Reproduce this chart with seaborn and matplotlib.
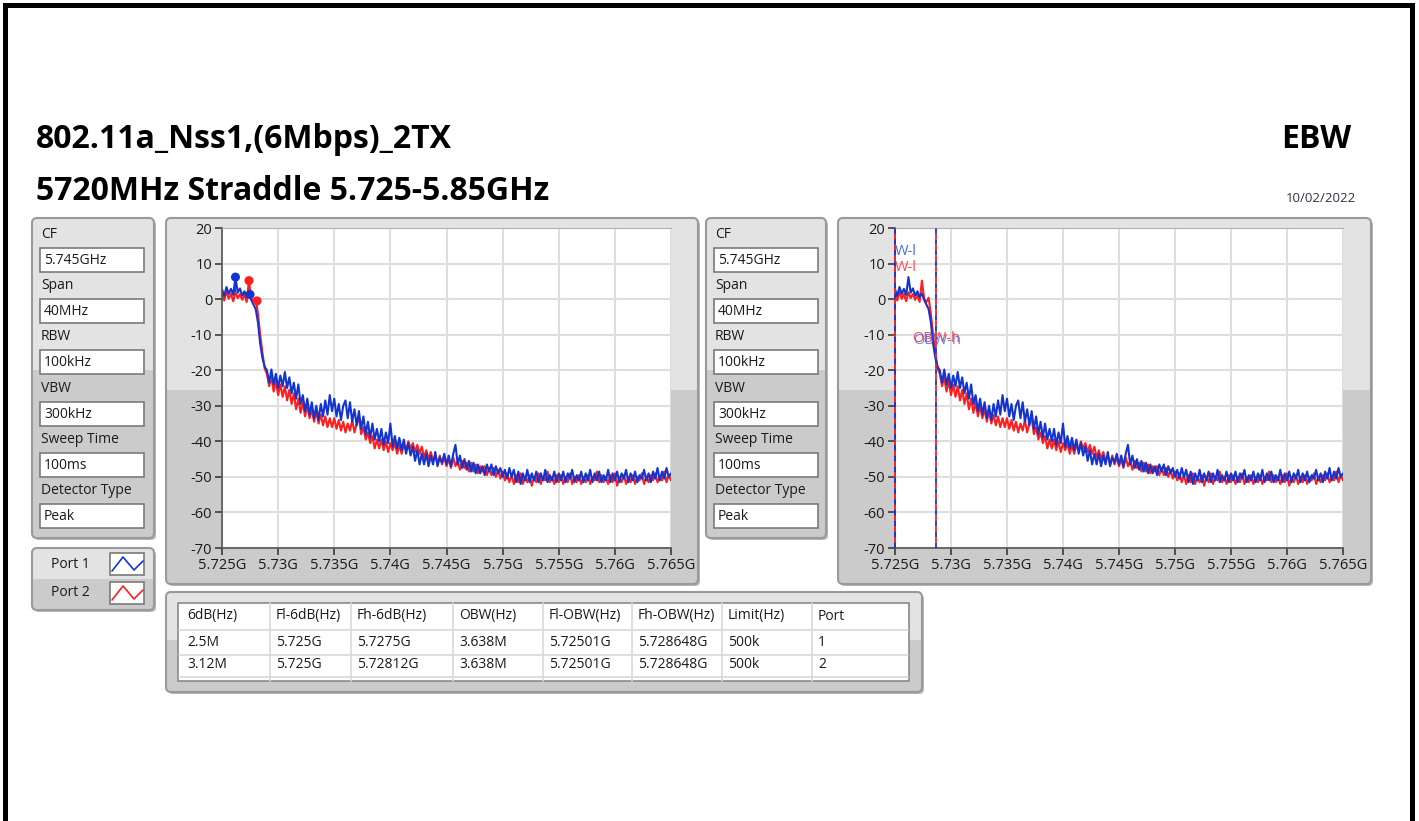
import numpy as np
import matplotlib
matplotlib.use("Agg")
import matplotlib.pyplot as plt
from matplotlib.patches import FancyBboxPatch, Rectangle
import seaborn as sns

# ---------------------------------------------------------------
# data
# ---------------------------------------------------------------
title_1 = "802.11a_Nss1,(6Mbps)_2TX"
title_2 = "5720MHz Straddle 5.725-5.85GHz"
mode_label = "EBW"
date_label = "10/02/2022"

param_labels = ["CF", "Span", "RBW", "VBW", "Sweep Time", "Detector Type"]
param_values = ["5.745GHz", "40MHz", "100kHz", "300kHz", "100ms", "Peak"]

port_names = ["Port 1", "Port 2"]
port_colors = ["#1434d0", "#ff1e1e"]

# sweep 5.725 GHz .. 5.765 GHz, levels in dBm (traced every 0.2 MHz)
freq_start_ghz = 5.725
freq_stop_ghz = 5.765

port1_dbm = [
    2.8, 0.9, 3.4, 1.5, 2.9, 1.2, 6.2, 1.8, 3.0, 1.0,
    2.2, 0.6, 1.6, -0.2, -1.5, -2.8, -6.5, -12.5, -16.5, -19.0,
    -20.0, -23.5, -19.8, -24.0, -21.0, -25.0, -21.5, -24.5, -20.5, -25.0,
    -22.0, -26.5, -23.5, -28.0, -24.0, -29.5, -27.0, -31.5, -28.0, -32.5,
    -29.0, -33.5, -30.0, -34.0, -29.5, -33.0, -28.5, -32.5, -27.0, -31.5,
    -28.0, -33.0, -29.5, -34.0, -30.0, -28.5, -33.5, -29.0, -34.5, -31.0,
    -35.5, -31.5, -36.5, -33.0, -38.0, -34.5, -39.0, -35.0, -39.5, -36.5,
    -40.0, -36.5, -41.0, -37.5, -40.5, -35.0, -41.5, -38.5, -42.0, -39.0,
    -42.5, -39.5, -43.5, -40.5, -44.0, -41.5, -45.5, -42.5, -46.5, -43.5,
    -46.5, -43.5, -47.0, -44.0, -46.5, -43.0, -47.0, -44.5, -46.0, -43.5,
    -46.5, -44.0, -47.0, -43.5, -41.0, -46.5, -44.0, -47.5, -45.0, -48.0,
    -45.5, -48.5, -46.0, -49.0, -46.5, -49.0, -47.0, -49.5, -46.5, -48.5,
    -46.5, -49.5, -47.0, -49.0, -47.5, -50.0, -48.0, -50.5, -47.5, -50.0,
    -48.0, -51.5, -48.5, -52.0, -49.0, -51.0, -48.0, -51.5, -49.0, -51.0,
    -48.5, -51.5, -49.0, -51.0, -48.0, -51.5, -49.5, -51.0, -48.5, -51.5,
    -49.0, -51.0, -48.5, -51.5, -49.0, -50.5, -48.0, -51.5, -49.5, -51.0,
    -48.5, -51.5, -49.0, -51.0, -48.0, -51.5, -49.0, -51.0, -48.5, -51.5,
    -49.5, -51.0, -48.0, -51.5, -49.0, -51.0, -48.5, -51.5, -49.0, -50.5,
    -48.0, -51.5, -49.0, -51.0, -48.5, -51.5, -49.5, -50.5, -48.0, -51.0,
    -49.0, -51.5, -48.5, -50.5, -47.5, -51.0, -48.5, -50.5, -47.5, -50.0,
    -49.0,
]

port2_dbm = [
    1.8, -0.4, 2.2, 0.1, 1.5, -0.6, 1.9, 0.3, 1.4, -0.2,
    1.2, -0.8, 5.2, 0.2, -0.9, 0.4, -4.0, -10.0, -15.0, -19.5,
    -21.0, -24.5, -22.0, -26.0, -23.0, -27.0, -24.0, -27.5, -24.5, -28.5,
    -25.5, -29.5, -26.5, -31.0, -28.0, -32.0, -29.0, -33.0, -30.0, -33.5,
    -31.0, -34.5, -31.5, -35.0, -32.5, -35.5, -33.0, -36.0, -33.5, -36.0,
    -33.5, -36.5, -34.0, -37.0, -34.5, -37.5, -35.0, -37.0, -34.0, -37.5,
    -35.0, -33.5, -38.0, -36.0, -39.5, -37.5, -40.5, -38.5, -42.0, -39.5,
    -42.0, -39.5, -42.5, -40.0, -43.0, -40.5, -42.5, -40.5, -43.5, -41.0,
    -43.5, -41.0, -42.5, -40.0, -42.0, -40.5, -43.0, -41.0, -43.5, -41.5,
    -44.5, -42.5, -45.0, -43.0, -45.5, -44.0, -46.5, -44.0, -46.5, -44.5,
    -47.0, -45.0, -47.5, -44.5, -47.0, -45.5, -48.0, -45.5, -47.5, -46.0,
    -48.5, -46.0, -48.5, -46.5, -49.0, -47.0, -48.5, -47.0, -49.5, -47.5,
    -49.5, -47.5, -50.0, -48.0, -50.5, -48.5, -51.0, -49.0, -51.5, -49.5,
    -52.0, -49.5, -51.5, -49.0, -52.0, -50.0, -51.5, -49.5, -52.5, -50.0,
    -51.5, -49.0, -52.0, -50.0, -51.0, -48.5, -51.5, -50.0, -52.0, -49.5,
    -51.5, -49.5, -52.0, -50.0, -51.5, -49.0, -52.0, -50.0, -51.5, -49.5,
    -52.0, -50.0, -51.5, -49.5, -52.0, -50.0, -51.0, -48.5, -51.5, -49.5,
    -51.5, -50.0, -52.0, -49.5, -51.5, -49.0, -52.5, -50.0, -51.5, -49.5,
    -52.0, -50.0, -51.5, -49.5, -52.0, -50.0, -51.0, -49.0, -52.0, -50.0,
    -51.5, -49.5, -51.0, -49.0, -51.5, -50.0, -51.0, -48.5, -51.5, -49.5,
    -51.0,
]

# markers (peak and -6 dB upper edge) per port
peak_freq_ghz = [5.7262, 5.7274]
peak_dbm = [6.2, 5.2]
fh6_freq_ghz = [5.7275, 5.72812]
fh6_dbm = [1.3, -0.5]

# occupied bandwidth edges per port
obw_low_ghz = [5.72501, 5.72501]
obw_high_ghz = [5.728648, 5.728648]

x_ticks = [5.725, 5.73, 5.735, 5.74, 5.745, 5.75, 5.755, 5.76, 5.765]
x_tick_labels = ["5.725G", "5.73G", "5.735G", "5.74G", "5.745G",
                 "5.75G", "5.755G", "5.76G", "5.765G"]
y_ticks = [20, 10, 0, -10, -20, -30, -40, -50, -60, -70]

table_header = ["6dB(Hz)", "Fl-6dB(Hz)", "Fh-6dB(Hz)", "OBW(Hz)",
                "Fl-OBW(Hz)", "Fh-OBW(Hz)", "Limit(Hz)", "Port"]
table_row_1 = ["2.5M", "5.725G", "5.7275G", "3.638M", "5.72501G",
               "5.728648G", "500k", "1"]
table_row_2 = ["3.12M", "5.725G", "5.72812G", "3.638M", "5.72501G",
               "5.728648G", "500k", "2"]

# ---------------------------------------------------------------
sns.set_style("white")
plt.rcParams["font.family"] = ["Open Sans", "DejaVu Sans"]

W, H = 1419, 821
fig = plt.figure(figsize=(W / 100, H / 100), dpi=100)
fig.patch.set_facecolor("white")

# background axes in pixel coordinates
bg = fig.add_axes([0, 0, 1, 1], zorder=0)
bg.set_xlim(0, W)
bg.set_ylim(H, 0)
bg.axis("off")

TXT = "#1a1a1a"
EDGE = "#9a9a9a"
LIGHT = "#e3e3e3"
DARK = "#cbcbcb"
FS = 10


def fig_rect(x0, y0, x1, y1):
    return [x0 / W, 1 - y1 / H, (x1 - x0) / W, (y1 - y0) / H]


def panel(x0, y0, x1, y1, split):
    shadow = FancyBboxPatch((x0 + 2, y0 + 2), x1 - x0, y1 - y0,
                            boxstyle="round,pad=0,rounding_size=5",
                            fc="#b5b5b5", ec="none")
    bg.add_patch(shadow)
    box = FancyBboxPatch((x0, y0), x1 - x0, y1 - y0,
                         boxstyle="round,pad=0,rounding_size=5",
                         fc=LIGHT, ec="none")
    bg.add_patch(box)
    low = Rectangle((x0, split), x1 - x0, y1 - split, fc=DARK, ec="none")
    low.set_clip_path(box)
    bg.add_patch(low)
    bg.add_patch(FancyBboxPatch((x0, y0), x1 - x0, y1 - y0,
                                boxstyle="round,pad=0,rounding_size=5",
                                fc="none", ec=EDGE, lw=1.5))


# black outline of the screenshot
bg.add_patch(Rectangle((3, 3), 1412, 5, fc="black", ec="none"))
bg.add_patch(Rectangle((3, 3), 5, H, fc="black", ec="none"))
bg.add_patch(Rectangle((1410, 3), 5, H, fc="black", ec="none"))

# titles
bg.text(36, 140, title_1, fontsize=23, fontweight="bold", color="black",
        ha="left", va="center")
bg.text(36, 192, title_2, fontsize=23, fontweight="bold", color="black",
        ha="left", va="center")
bg.text(1351, 140, mode_label, fontsize=23, fontweight="bold", color="black",
        ha="right", va="center")
bg.text(1356, 198, date_label, fontsize=9.5, color="#333344",
        ha="right", va="center")

# parameter panels
for px0, px1 in [(32, 154), (706, 826)]:
    panel(px0, 218, px1, 538, 370)
    for i, (lab, val) in enumerate(zip(param_labels, param_values)):
        ly = 234 + 51.4 * i
        by = 248 + 51.2 * i
        bg.text(px0 + 9, ly, lab, fontsize=FS, color=TXT, ha="left", va="center")
        bg.add_patch(Rectangle((px0 + 8, by), 104, 24, fc="white",
                               ec="#7a7a7a", lw=1.2))
        bg.text(px0 + 12, by + 12.5, val, fontsize=FS, color=TXT,
                ha="left", va="center")

# legend panel
panel(32, 548, 154, 610, 579)
for i, (name, col) in enumerate(zip(port_names, port_colors)):
    cy = 564 + 29 * i
    bg.text(70, cy, name, fontsize=FS, color=TXT, ha="center", va="center")
    bg.add_patch(Rectangle((110, cy - 11), 34, 22, fc="white", ec="#7a7a7a", lw=1.2))
    bg.plot([112, 123, 134, 143], [cy + 7, cy - 7, cy + 6, cy - 3],
            color=col, lw=1.2)

# plot frames
panel(166, 218, 698, 584, 390)
panel(838, 218, 1371, 584, 390)

# table
panel(166, 592, 922, 692, 640)
bg.add_patch(Rectangle((178, 603), 731, 78, fc="white", ec="#8a8a8a", lw=1.2))
col_edges = [181, 270, 351, 453, 543, 632, 722, 812, 907]
for xe in col_edges[1:-1]:
    bg.plot([xe, xe], [603, 681], color="#d8d8d8", lw=1.2)
for ye in [630, 655, 677]:
    bg.plot([179, 908], [ye, ye], color="#d8d8d8", lw=1.2)
for row, ry in zip([table_header, table_row_1, table_row_2], [616, 642, 665]):
    for xe, cell in zip(col_edges[:-1], row):
        bg.text(xe + 6, ry, cell, fontsize=FS, color=TXT, ha="left", va="center")


# spectrum plots
def spectrum_axes(rect):
    ax = fig.add_axes(rect, zorder=2)
    ax.set_facecolor("white")
    freq_ghz = np.linspace(freq_start_ghz, freq_stop_ghz, len(port1_dbm))
    sns.lineplot(x=freq_ghz, y=port2_dbm, ax=ax, color=port_colors[1],
                 linewidth=1.5, estimator=None, sort=False, legend=False)
    sns.lineplot(x=freq_ghz, y=port1_dbm, ax=ax, color=port_colors[0],
                 linewidth=1.5, estimator=None, sort=False, legend=False)
    ax.set_xlim(freq_start_ghz, freq_stop_ghz)
    ax.set_ylim(-70, 20)
    ax.set_xticks(x_ticks)
    ax.set_xticklabels(x_tick_labels)
    ax.set_yticks(y_ticks)
    ax.set_yticklabels([str(v) for v in y_ticks])
    ax.grid(True, color="#dedede", lw=1.5)
    ax.set_axisbelow(True)
    ax.tick_params(direction="out", length=5, width=1.2, color="#3a3a3a",
                   labelsize=10.5, labelcolor=TXT, pad=2,
                   left=True, bottom=True)
    for side in ["left", "bottom"]:
        ax.spines[side].set_color("#555555")
        ax.spines[side].set_linewidth(1.2)
    ax.spines["top"].set_color("#b0b0b0")
    ax.spines["right"].set_visible(False)
    ax.set_xlabel("")
    ax.set_ylabel("")
    return ax


ax1 = spectrum_axes(fig_rect(222, 228, 671, 548))
ax1.vlines(peak_freq_ghz, [2.0, 0.5], peak_dbm, colors=port_colors, lw=1.3)
ax1.scatter(peak_freq_ghz, peak_dbm, c=port_colors, s=30, zorder=5)
ax1.scatter(fh6_freq_ghz, fh6_dbm, c=port_colors, s=30, zorder=5)

ax2 = spectrum_axes(fig_rect(895, 228, 1343, 548))
for k, col in enumerate(port_colors):
    for xv in [obw_low_ghz[k], obw_high_ghz[k]]:
        ax2.axvline(xv, color=col, lw=1.3, linestyle=(3 * k, (3, 3)),
                    zorder=4, clip_on=False)
# the "OBW-l" labels are cut by the plot edge, only "W-l" shows
lab_font = dict(fontsize=10.5, va="center", zorder=6)
ax2.text(obw_low_ghz[0], 13.5, "W-l", color="#4a6ae8", ha="left", **lab_font)
ax2.text(obw_low_ghz[1], 9.0, "W-l", color="#ff4a4a", ha="left", **lab_font)
ax2.text(obw_high_ghz[1], -11.0, "OBW-h", color="#ff4a4a", ha="center", **lab_font)
ax2.text(obw_high_ghz[0] + 0.0001, -11.6, "OBW-h", color="#4a6ae8", alpha=0.8,
         ha="center", **lab_font)

fig.savefig("out.png", dpi=100)
